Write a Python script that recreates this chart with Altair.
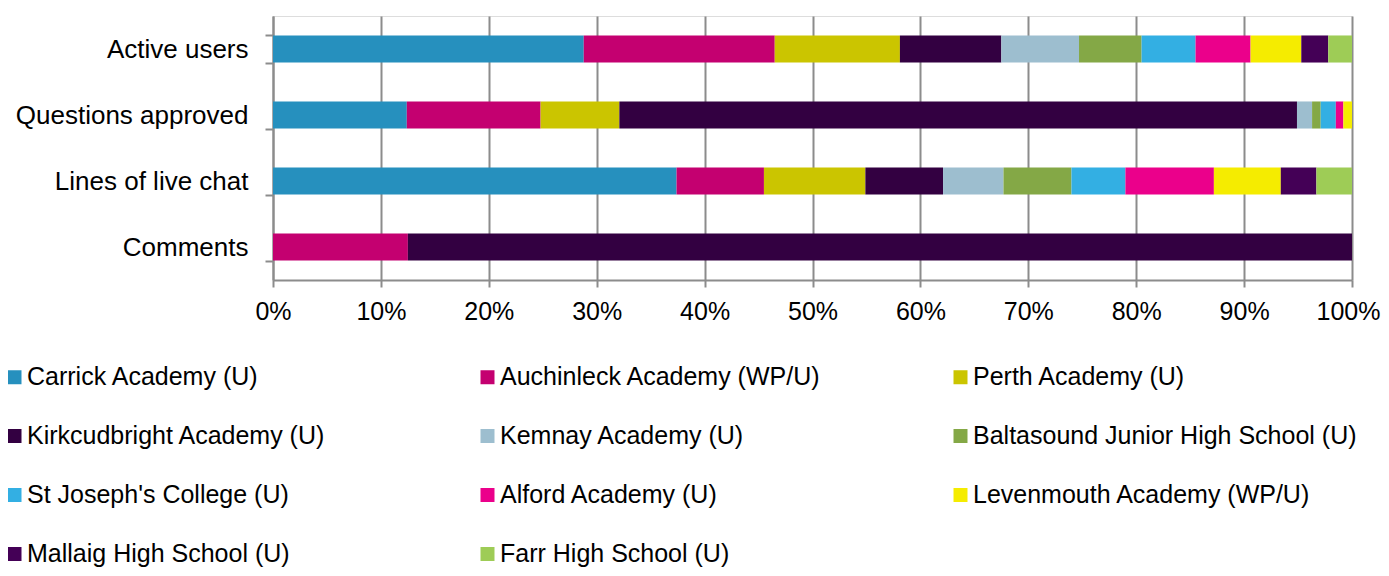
import altair as alt
import pandas as pd

metrics = ["Active users", "Questions approved", "Lines of live chat", "Comments"]
schools = [
    "Carrick Academy (U)",
    "Auchinleck Academy (WP/U)",
    "Perth Academy (U)",
    "Kirkcudbright Academy (U)",
    "Kemnay Academy (U)",
    "Baltasound Junior High School (U)",
    "St Joseph's College (U)",
    "Alford Academy (U)",
    "Levenmouth Academy (WP/U)",
    "Mallaig High School (U)",
    "Farr High School (U)",
]
colors = ["#2690BE", "#C40070", "#CBC500", "#330041", "#9DBECF", "#84A846",
          "#33AFE3", "#EB008B", "#F5EC00", "#440056", "#9ECC56"]

active_users = [28.8, 17.7, 11.6, 9.4, 7.2, 5.8, 5.0, 5.1, 4.7, 2.5, 2.2]
questions_approved = [12.4, 12.4, 7.3, 62.8, 1.4, 0.8, 1.4, 0.7, 0.8, 0.0, 0.0]
lines_of_live_chat = [37.4, 8.1, 9.4, 7.2, 5.6, 6.3, 5.0, 8.2, 6.2, 3.3, 3.3]
comments = [0.0, 12.5, 0.0, 87.5, 0.0, 0.0, 0.0, 0.0, 0.0, 0.0, 0.0]

series = [active_users, questions_approved, lines_of_live_chat, comments]
rows = []
for m, vals in zip(metrics, series):
    for i, (s, v) in enumerate(zip(schools, vals)):
        rows.append({"metric": m, "school": s, "value": v, "idx": i})
df = pd.DataFrame(rows)

ticks = [i / 10 for i in range(11)]
FONT = "Liberation Sans"

chart = alt.Chart(df).mark_bar().encode(
    x=alt.X("value:Q", stack="normalize", title=None,
            scale=alt.Scale(domain=[0, 1], nice=False),
            axis=alt.Axis(format=".0%", values=ticks, grid=True, labelFlush=False,
                          gridColor="#8c8c8c", gridWidth=2,
                          domainColor="#8c8c8c", domainWidth=2,
                          tickColor="#8c8c8c", tickWidth=2, tickSize=7,
                          labelFontSize=25, labelColor="#000000",
                          labelOffset={"condition": {"test": "datum.value == 1", "value": -4},
                                       "value": 0},
                          labelPadding=12, labelFont=FONT)),
    y=alt.Y("metric:N", sort=metrics, title=None,
            scale=alt.Scale(paddingInner=0.59, paddingOuter=0.295),
            axis=alt.Axis(grid=False, tickBand="extent",
                          domainColor="#8c8c8c", domainWidth=2,
                          tickColor="#8c8c8c", tickWidth=2, tickSize=8,
                          labelFontSize=26, labelColor="#000000", labelLimit=400,
                          labelPadding=17, labelFont=FONT)),
    color=alt.Color("school:N", sort=schools,
                    scale=alt.Scale(domain=schools, range=colors),
                    legend=alt.Legend(orient="none", legendX=-271, legendY=348.5,
                                      direction="horizontal",
                                      columns=3, gridAlign="all", columnPadding=64,
                                      rowPadding=33, title=None, padding=0,
                                      symbolType="square", symbolSize=196,
                                      symbolStrokeWidth=0, symbolOffset=0,
                                      labelFontSize=25, labelLimit=1000,
                                      labelOffset=0, labelColor="#000000",
                                      labelFont=FONT)),
    order=alt.Order("idx:Q"),
).properties(
    width=1079, height=264,
    autosize=alt.AutoSizeParams(type="none"),
    padding={"left": 265, "top": 8, "right": 29, "bottom": 288},
).configure_view(stroke=None).configure(font=FONT)

chart.save("out.html", embed_options={"renderer": "svg", "actions": False})
